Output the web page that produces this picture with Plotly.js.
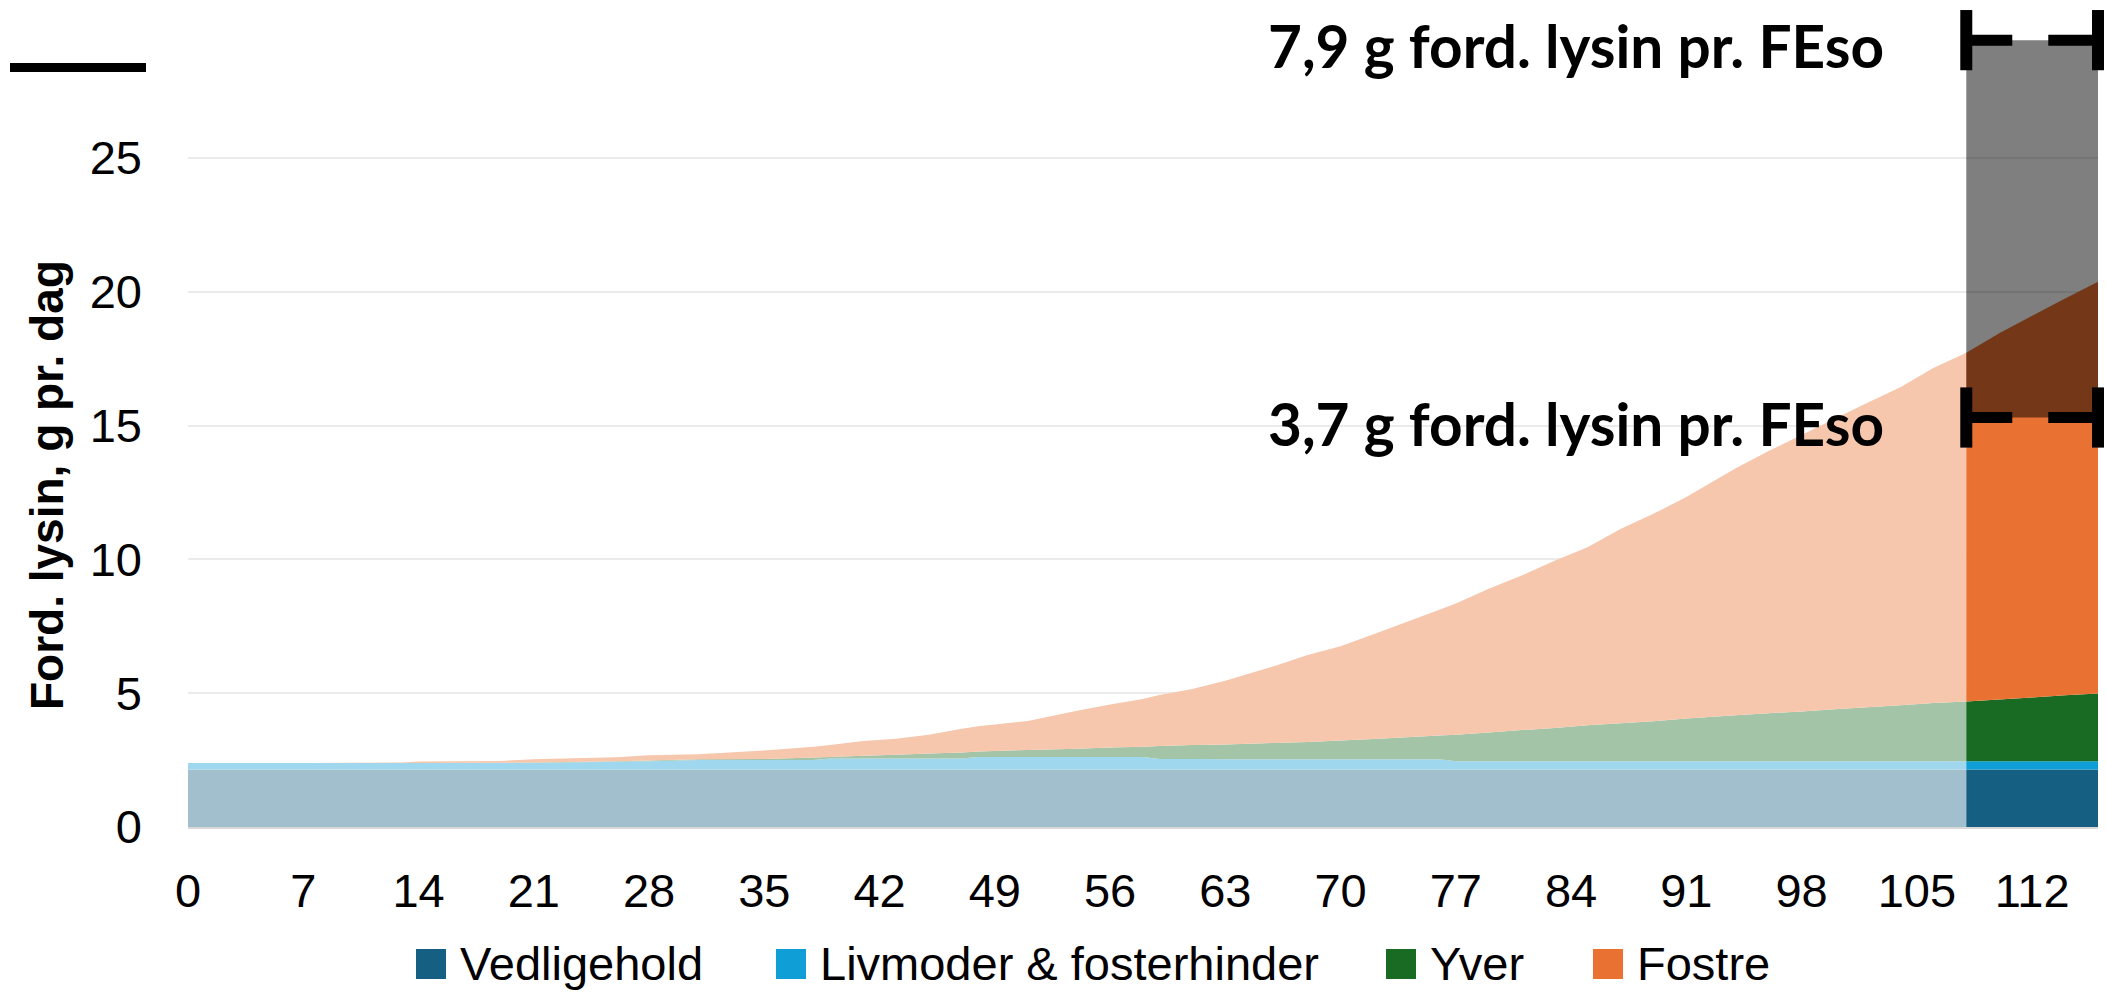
<!DOCTYPE html>
<html>
<head>
<meta charset="utf-8">
<script src="https://cdn.plot.ly/plotly-3.0.1.min.js"></script>
<style>
  html, body { margin: 0; padding: 0; background: #fff; }
  #chart { width: 2106px; height: 994px; }
</style>
</head>
<body>
<div id="chart"></div>
<script>
// ---------------- DATA ----------------
const days = [0, 7, 13, 14, 19, 21, 26, 28, 31, 35, 38, 39, 41, 43, 45, 47, 48, 51, 54, 56,
  58, 59, 61, 63, 66, 68, 70, 72, 74, 76, 77, 79, 81, 83, 85, 87, 89, 91, 94, 96,
  98, 100, 102, 104, 106, 108, 110, 112, 114, 116];

const vedligehold = [2.15, 2.15, 2.15, 2.15, 2.15, 2.15, 2.15, 2.15, 2.15, 2.15,
  2.15, 2.15, 2.15, 2.15, 2.15, 2.15, 2.15, 2.15, 2.15, 2.15,
  2.15, 2.15, 2.15, 2.15, 2.15, 2.15, 2.15, 2.15, 2.15, 2.15,
  2.15, 2.15, 2.15, 2.15, 2.15, 2.15, 2.15, 2.15, 2.15, 2.15,
  2.15, 2.15, 2.15, 2.15, 2.15, 2.15, 2.15, 2.15, 2.15, 2.15];

const livmoder = [0.24, 0.24, 0.24, 0.24, 0.24, 0.24, 0.29, 0.31, 0.35, 0.35,
  0.35, 0.41, 0.41, 0.41, 0.41, 0.41, 0.47, 0.47, 0.47, 0.47,
  0.47, 0.39, 0.39, 0.38, 0.38, 0.38, 0.38, 0.38, 0.38, 0.38,
  0.31, 0.31, 0.31, 0.31, 0.31, 0.31, 0.31, 0.31, 0.31, 0.31,
  0.31, 0.31, 0.31, 0.31, 0.31, 0.31, 0.31, 0.31, 0.31, 0.31];

const yver = [0, 0, 0, 0, 0.01, 0.02, 0.02, 0.02, 0.03, 0.04,
  0.10, 0.06, 0.10, 0.14, 0.19, 0.22, 0.20, 0.26, 0.30, 0.35,
  0.38, 0.49, 0.52, 0.55, 0.61, 0.65, 0.70, 0.76, 0.82, 0.89,
  0.99, 1.07, 1.16, 1.24, 1.34, 1.42, 1.49, 1.59, 1.72, 1.79,
  1.86, 1.94, 2.01, 2.09, 2.17, 2.23, 2.30, 2.38, 2.46, 2.53];

const fostre = [0, 0, 0.02, 0.06, 0.07, 0.12, 0.15, 0.20, 0.19, 0.32,
  0.40, 0.44, 0.55, 0.60, 0.70, 0.89, 0.94, 1.08, 1.42, 1.61,
  1.78, 1.90, 2.10, 2.38, 2.88, 3.25, 3.52, 3.91, 4.31, 4.70,
  4.90, 5.37, 5.78, 6.25, 6.65, 7.25, 7.75, 8.28, 9.22, 9.80,
  10.33, 10.85, 11.38, 11.88, 12.52, 13.03, 13.69, 14.26, 14.83, 15.38];

const seriesNames = ['Vedligehold', 'Livmoder & fosterhinder', 'Yver', 'Fostre'];
const seriesValues = [vedligehold, livmoder, yver, fostre];

const xTickVals = [0, 7, 14, 21, 28, 35, 42, 49, 56, 63, 70, 77, 84, 91, 98, 105, 112];
const yTickVals = [0, 5, 10, 15, 20, 25];

const highlightStart = 108;
const highlightEnd = 116;
const fesoLevels = [29.4, 15.3];
const fesoLabels = ['7,9 g ford. lysin pr. FEso', '3,7 g ford. lysin pr. FEso'];
const yTitleText = 'Ford. lysin, g pr. dag';

// ---------------- STYLE ----------------
const seriesColors = ['#156082', '#0F9ED5', '#196B24', '#E97132'];
const fadeAlpha = 0.4;
const W = 2106, H = 994;
const M = { l: 188, r: 8, t: 4, b: 167 };
const px2x = X => (X - M.l) / (W - M.l - M.r);
const px2y = Y => (H - M.b - Y) / (H - M.t - M.b);
const BASE_FONT = 'Liberation Sans, Arial, sans-serif';
const LABEL_FONT = 'Lato, Noto Sans, sans-serif';

function blend(hex, a) {
  const r = parseInt(hex.slice(1, 3), 16), g = parseInt(hex.slice(3, 5), 16), b = parseInt(hex.slice(5, 7), 16);
  const m = c => Math.round(c * a + 255 * (1 - a));
  return 'rgb(' + m(r) + ',' + m(g) + ',' + m(b) + ')';
}

// ---------------- TRACES ----------------
const earlyIdx = days.map((d, i) => i).filter(i => days[i] <= highlightStart);
const lateIdx = days.map((d, i) => i).filter(i => days[i] >= highlightStart);

const traces = [];
seriesValues.forEach((vals, s) => {
  traces.push({
    type: 'scatter', name: seriesNames[s],
    x: earlyIdx.map(i => days[i]), y: earlyIdx.map(i => vals[i]),
    stackgroup: 'early', mode: 'none',
    fillcolor: blend(seriesColors[s], fadeAlpha),
    hoverinfo: 'skip', showlegend: false
  });
});
seriesValues.forEach((vals, s) => {
  traces.push({
    type: 'scatter', name: seriesNames[s],
    x: lateIdx.map(i => days[i]), y: lateIdx.map(i => vals[i]),
    stackgroup: 'late', mode: 'none',
    fillcolor: seriesColors[s],
    hoverinfo: 'skip', showlegend: false
  });
});

// semi-transparent range box
const lo = Math.min(...fesoLevels), hi = Math.max(...fesoLevels);
traces.push({
  type: 'scatter', mode: 'lines',
  x: [highlightStart, highlightEnd, highlightEnd, highlightStart, highlightStart],
  y: [lo, lo, hi, hi, lo],
  fill: 'toself', fillcolor: 'rgba(0,0,0,0.5)', line: { width: 0 },
  hoverinfo: 'skip', showlegend: false
});

// bracket markers at each level
fesoLevels.forEach(lvl => {
  traces.push({
    type: 'scatter', mode: 'lines+markers',
    x: [highlightStart, highlightEnd], y: [lvl, lvl],
    line: { color: '#000', width: 11, dash: '46px,36px,300px' },
    marker: { symbol: 'line-ns', size: 43, color: '#000', line: { width: 12, color: '#000' } },
    cliponaxis: false, hoverinfo: 'skip', showlegend: false
  });
});

// ---------------- ANNOTATIONS / SHAPES ----------------
const annotations = [];
const shapes = [];

fesoLevels.forEach((lvl, i) => {
  annotations.push({
    xref: 'x', yref: 'y', x: highlightStart, y: lvl,
    xanchor: 'right', yanchor: 'middle', xshift: -80, yshift: -5,
    text: '<b>' + fesoLabels[i] + '</b>', showarrow: false,
    font: { family: LABEL_FONT, size: 58.5, color: '#000' }
  });
});

annotations.push({
  xref: 'paper', yref: 'paper', x: px2x(47), y: px2y(485),
  xanchor: 'center', yanchor: 'middle', textangle: -90,
  text: '<b>' + yTitleText + '</b>', showarrow: false,
  font: { family: BASE_FONT, size: 46, color: '#000' }
});

// legend (manual)
const legendLeftPx = [416, 776, 1386, 1593];
const legendYpx = 964;
seriesNames.forEach((name, s) => {
  shapes.push({
    type: 'rect', xref: 'paper', yref: 'paper', layer: 'above',
    x0: px2x(legendLeftPx[s]), x1: px2x(legendLeftPx[s] + 30),
    y0: px2y(legendYpx + 15), y1: px2y(legendYpx - 15),
    fillcolor: seriesColors[s], line: { width: 0 }
  });
  annotations.push({
    xref: 'paper', yref: 'paper', x: px2x(legendLeftPx[s] + 42), y: px2y(legendYpx),
    xanchor: 'left', yanchor: 'middle', text: name, showarrow: false,
    font: { family: BASE_FONT, size: 47, color: '#000' }
  });
});

// short black bar at top-left
shapes.push({
  type: 'rect', xref: 'paper', yref: 'paper', layer: 'above',
  x0: px2x(10), x1: px2x(146), y0: px2y(72), y1: px2y(63),
  fillcolor: '#000', line: { width: 0 }
});

const layout = {
  width: W, height: H,
  margin: M,
  paper_bgcolor: '#fff', plot_bgcolor: '#fff',
  showlegend: false,
  font: { family: BASE_FONT, size: 47, color: '#000' },
  xaxis: {
    range: [0, 116], tickvals: xTickVals, ticktext: xTickVals.map(String),
    showgrid: false, zeroline: false, ticks: '',
    showline: true, linecolor: '#D9D9D9', linewidth: 2,
    tickfont: { family: BASE_FONT, size: 47, color: '#000' },
    ticklabelstandoff: 22, fixedrange: true
  },
  yaxis: {
    range: [0, 30.75], tickvals: yTickVals, ticktext: yTickVals.map(String),
    showgrid: true, gridcolor: '#EBEBEB', gridwidth: 2,
    zeroline: false, ticks: '', showline: false,
    tickfont: { family: BASE_FONT, size: 47, color: '#000' },
    ticklabelstandoff: 45, fixedrange: true
  },
  annotations: annotations,
  shapes: shapes
};

Plotly.newPlot('chart', traces, layout, { staticPlot: true, displayModeBar: false });
</script>
</body>
</html>
